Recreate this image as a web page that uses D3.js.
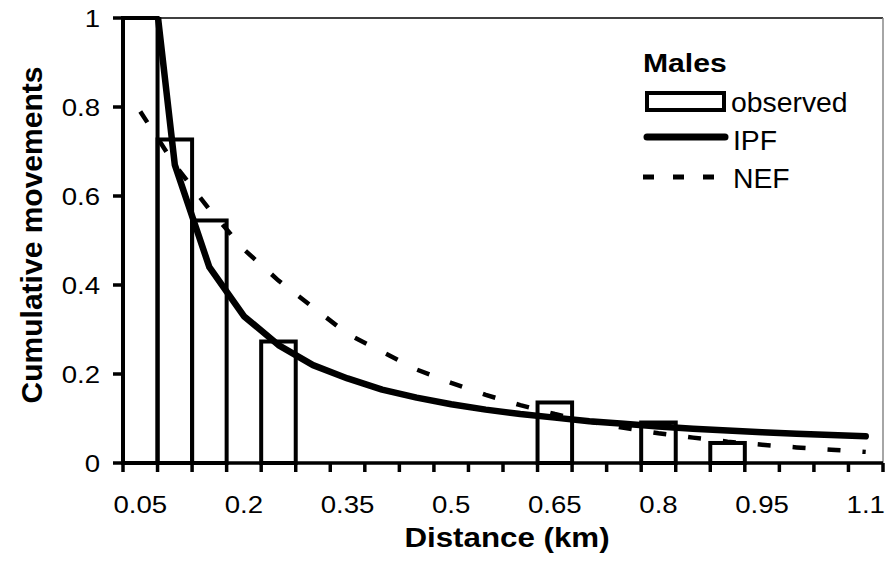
<!DOCTYPE html>
<html>
<head>
<meta charset="utf-8">
<script src="https://cdn.jsdelivr.net/npm/d3@7"></script>
<style>
  html, body { margin: 0; padding: 0; background: #fff; }
  svg { display: block; font-family: "Liberation Sans", Arial, sans-serif; }
</style>
</head>
<body>
<svg id="chart" width="895" height="561"></svg>
<script>
// ---- data ----
const categories = ["0.05","0.1","0.15","0.2","0.25","0.3","0.35","0.4","0.45","0.5","0.55",
                    "0.6","0.65","0.7","0.75","0.8","0.85","0.9","0.95","1","1.05","1.1"];
const observed = [1, 0.727, 0.545, 0, 0.273, 0, 0, 0, 0, 0, 0,
                  0, 0.136, 0, 0, 0.091, 0, 0.045, 0, 0, 0, 0];
const ipf = [1.35, 0.67, 0.44, 0.33, 0.265, 0.22, 0.19, 0.165, 0.147, 0.132, 0.12,
             0.11, 0.102, 0.094, 0.088, 0.082, 0.077, 0.073, 0.069, 0.066, 0.063, 0.06];
const nef = [0.79, 0.67, 0.57, 0.48, 0.41, 0.35, 0.29, 0.25, 0.21, 0.18, 0.153,
             0.13, 0.11, 0.093, 0.079, 0.067, 0.057, 0.048, 0.041, 0.035, 0.03, 0.025];
const yTicks = [0, 0.2, 0.4, 0.6, 0.8, 1];
const xLabelCats = ["0.05","0.2","0.35","0.5","0.65","0.8","0.95","1.1"];
const legendTitle = "Males";
const seriesNames = ["observed", "IPF", "NEF"];

// ---- layout ----
const svg = d3.select("#chart");
const L = 123, R = 883, T = 18, B = 463;
const x = d3.scaleBand().domain(categories).range([L, R]).padding(0);
const y = d3.scaleLinear().domain([0, 1]).range([B, T]);
const bw = x.bandwidth();
const cx = c => x(c) + bw / 2;

function stretchedText(g, px, py, str, opts) {
  return g.append("text")
    .attr("transform", `translate(${px},${py}) scale(${opts.sx || 1},1)`)
    .attr("text-anchor", opts.anchor || "start")
    .attr("font-size", opts.size)
    .attr("font-weight", opts.weight || "normal")
    .attr("fill", "#000")
    .text(str);
}

// plot frame (top black, right grey)
svg.append("line").attr("x1", L).attr("x2", R).attr("y1", T).attr("y2", T)
  .attr("stroke", "#000").attr("stroke-width", 1.5);
svg.append("line").attr("x1", R).attr("x2", R).attr("y1", T).attr("y2", B)
  .attr("stroke", "#888").attr("stroke-width", 1.5);

// clip
svg.append("clipPath").attr("id", "plotClip").append("rect")
  .attr("x", L - 5).attr("y", T - 1).attr("width", R - L + 10).attr("height", B - T + 6);

// bars
const data = categories.map((c, i) => ({ c, v: observed[i] }));
svg.append("g").selectAll("rect").data(data.filter(d => d.v > 0)).join("rect")
  .attr("x", d => x(d.c))
  .attr("y", d => y(d.v))
  .attr("width", bw)
  .attr("height", d => y(0) - y(d.v))
  .attr("fill", "none")
  .attr("stroke", "#000")
  .attr("stroke-width", 4);

// lines
const lineGen = d3.line().x(d => cx(d.c)).y(d => y(d.v));
const gLines = svg.append("g").attr("clip-path", "url(#plotClip)");
gLines.append("path")
  .datum(categories.map((c, i) => ({ c, v: nef[i] })))
  .attr("d", lineGen)
  .attr("fill", "none").attr("stroke", "#000").attr("stroke-width", 4.5)
  .attr("stroke-dasharray", "13,22");
gLines.append("path")
  .datum(categories.map((c, i) => ({ c, v: ipf[i] })))
  .attr("d", lineGen)
  .attr("fill", "none").attr("stroke", "#000").attr("stroke-width", 6.5)
  .attr("stroke-linejoin", "round").attr("stroke-linecap", "round");

// axes lines
svg.append("line").attr("x1", L).attr("x2", R).attr("y1", B).attr("y2", B)
  .attr("stroke", "#000").attr("stroke-width", 3.5);
svg.append("line").attr("x1", L).attr("x2", L).attr("y1", T).attr("y2", B)
  .attr("stroke", "#000").attr("stroke-width", 3.5);

// x ticks at category boundaries
const boundaries = categories.map(c => x(c)).concat([x(categories[categories.length - 1]) + bw]);
svg.append("g").selectAll("line").data(boundaries).join("line")
  .attr("x1", d => d).attr("x2", d => d).attr("y1", B).attr("y2", B + 9)
  .attr("stroke", "#000").attr("stroke-width", 3.5);

// y ticks
svg.append("g").selectAll("line").data(yTicks).join("line")
  .attr("x1", L - 10).attr("x2", L).attr("y1", d => y(d)).attr("y2", d => y(d))
  .attr("stroke", "#000").attr("stroke-width", 3.5);

// y tick labels
const gy = svg.append("g");
yTicks.forEach(v => stretchedText(gy, 100, y(v) + 8.5, String(v), { size: 24, sx: 1.15, anchor: "end" }));

// x tick labels
const gx = svg.append("g");
xLabelCats.forEach(c => stretchedText(gx, cx(c), 513, c, { size: 24, sx: 1.15, anchor: "middle" }));

// axis titles
stretchedText(svg, (L + R) / 2 + 4, 547, "Distance (km)", { size: 27, sx: 1.16, anchor: "middle", weight: "bold" });
svg.append("text")
  .attr("transform", `translate(42,235) rotate(-90)`)
  .attr("text-anchor", "middle").attr("font-size", 30).attr("font-weight", "bold")
  .text("Cumulative movements");

// legend
const lg = svg.append("g");
stretchedText(lg, 643, 72, legendTitle, { size: 26, sx: 1.16, weight: "bold" });
lg.append("rect").attr("x", 647).attr("y", 93).attr("width", 77).attr("height", 17)
  .attr("fill", "#fff").attr("stroke", "#000").attr("stroke-width", 4);
stretchedText(lg, 731, 112, seriesNames[0], { size: 27, sx: 1.05 });
lg.append("line").attr("x1", 647).attr("x2", 725).attr("y1", 137).attr("y2", 137)
  .attr("stroke", "#000").attr("stroke-width", 7).attr("stroke-linecap", "round");
stretchedText(lg, 733, 150, seriesNames[1], { size: 27, sx: 1.05 });
lg.append("line").attr("x1", 643).attr("x2", 716).attr("y1", 177).attr("y2", 177)
  .attr("stroke", "#000").attr("stroke-width", 5).attr("stroke-dasharray", "11,19");
stretchedText(lg, 733, 188, seriesNames[2], { size: 27, sx: 1.05 });
</script>
</body>
</html>
